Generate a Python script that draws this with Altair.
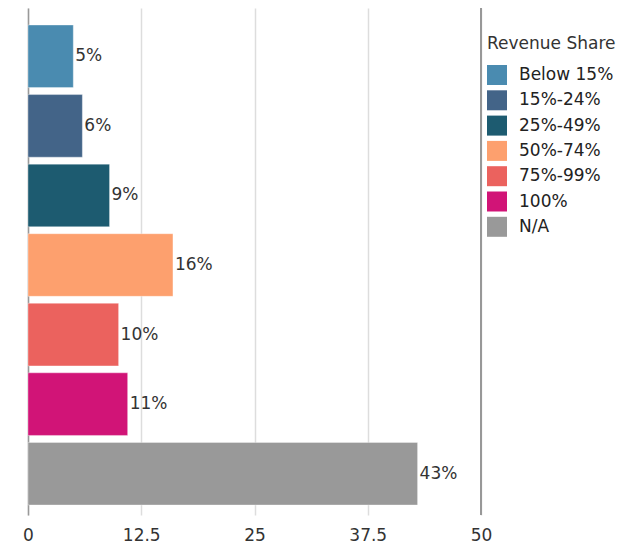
import altair as alt
import pandas as pd

categories = ["Below 15%", "15%-24%", "25%-49%", "50%-74%", "75%-99%", "100%", "N/A"]
values = [5, 6, 9, 16, 10, 11, 43]
labels = ["5%", "6%", "9%", "16%", "10%", "11%", "43%"]
colors = ["#4a8bb0", "#436488", "#1d5b70", "#fda06e", "#eb625e", "#d11477", "#999999"]
x_ticks = [0, 12.5, 25, 37.5, 50]

df = pd.DataFrame({"cat": categories, "val": values, "label": labels})

FONT = "DejaVu Sans"

y_enc = alt.Y("cat:N", sort=categories,
              scale=alt.Scale(paddingInner=0.1, paddingOuter=0.194, align=0.63),
              axis=alt.Axis(title=None, labels=False, ticks=False, domain=True,
                            domainColor="#999999", domainWidth=1.5, grid=False))
x_enc = alt.X("val:Q", scale=alt.Scale(domain=[0, 50], nice=False),
              axis=alt.Axis(title=None, values=x_ticks, format=".1~f", ticks=False,
                            domain=False, grid=True, gridColor="#dddddd", gridWidth=1.5,
                            labelFontSize=17, labelColor="#333333", labelFont=FONT,
                            labelPadding=12, labelFlush=False))

bars = alt.Chart(df).mark_bar(stroke="#ffffff", strokeOpacity=0.35, strokeWidth=1).encode(
    x=x_enc,
    y=y_enc,
    color=alt.Color("cat:N", sort=categories,
                    scale=alt.Scale(domain=categories, range=colors),
                    legend=alt.Legend(title="Revenue Share", orient="none",
                                      legendX=459, legendY=28,
                                      titleFontSize=17, titleFontWeight="normal",
                                      titleColor="#333333", titleFont=FONT,
                                      titlePadding=12,
                                      labelFontSize=17, labelColor="#222222", labelFont=FONT,
                                      symbolType="square", symbolSize=400,
                                      symbolStrokeWidth=0, symbolOpacity=1,
                                      rowPadding=5.3, labelOffset=12)),
)

text = alt.Chart(df).mark_text(align="left", baseline="middle", dx=2,
                               fontSize=17, color="#333333", font=FONT).encode(
    x="val:Q",
    y=alt.Y("cat:N", sort=categories),
    text="label:N",
)

edge = alt.Chart(df).mark_rule(color="#999999", strokeWidth=1.5).encode(
    x=alt.datum(50)
)

chart = alt.layer(bars, text, edge).properties(
    width=453, height=507,
    autosize=alt.AutoSizeParams(type="none"),
    padding={"left": 20, "top": 0, "right": 142, "bottom": 31},
).configure_view(stroke=None)

chart.save("out.html", embed_options={"renderer": "svg", "actions": False})
